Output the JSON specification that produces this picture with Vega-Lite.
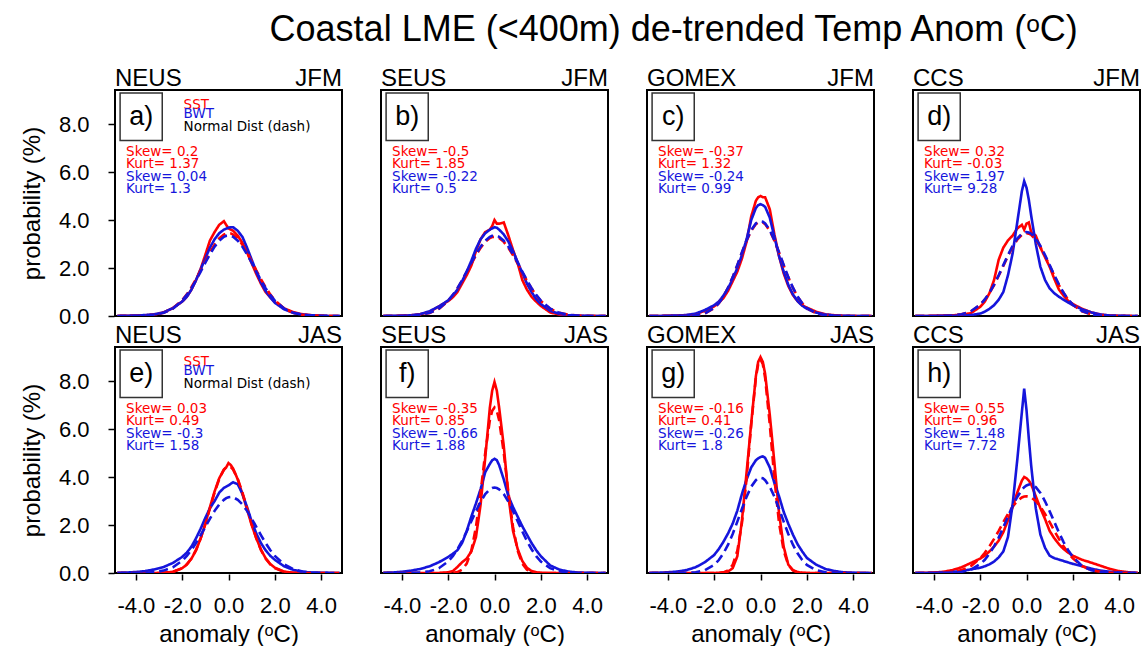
{
"$schema": "https://vega.github.io/schema/vega-lite/v6.json",
"background": "white",
"padding": {"left": 20, "top": 12, "right": 4, "bottom": 0},
"title": {"text": "Coastal LME (<400m) de-trended Temp Anom (ᵒC)", "fontSize": 36, "fontWeight": "normal", "font": "Liberation Sans", "color": "black", "anchor": "middle", "offset": 16, "dx": 93},
"data": {"values": [
{"p":"a","rg":"NEUS","se":"JFM","lb":"a)","sst":"Skew= 0.2\nKurt= 1.37","bwt":"Skew= 0.04\nKurt= 1.3","leg":1,"l1":"SST","l2":"BWT","l3":"Normal Dist (dash)"},
{"p":"b","rg":"SEUS","se":"JFM","lb":"b)","sst":"Skew= -0.5\nKurt= 1.85","bwt":"Skew= -0.22\nKurt= 0.5"},
{"p":"c","rg":"GOMEX","se":"JFM","lb":"c)","sst":"Skew= -0.37\nKurt= 1.32","bwt":"Skew= -0.24\nKurt= 0.99"},
{"p":"d","rg":"CCS","se":"JFM","lb":"d)","sst":"Skew= 0.32\nKurt= -0.03","bwt":"Skew= 1.97\nKurt= 9.28"},
{"p":"e","rg":"NEUS","se":"JAS","lb":"e)","sst":"Skew= 0.03\nKurt= 0.49","bwt":"Skew= -0.3\nKurt= 1.58","leg":1,"l1":"SST","l2":"BWT","l3":"Normal Dist (dash)"},
{"p":"f","rg":"SEUS","se":"JAS","lb":"f)","sst":"Skew= -0.35\nKurt= 0.85","bwt":"Skew= -0.66\nKurt= 1.88"},
{"p":"g","rg":"GOMEX","se":"JAS","lb":"g)","sst":"Skew= -0.16\nKurt= 0.41","bwt":"Skew= -0.26\nKurt= 1.8"},
{"p":"h","rg":"CCS","se":"JAS","lb":"h)","sst":"Skew= 0.55\nKurt= 0.96","bwt":"Skew= 1.48\nKurt= 7.72"},
{"p":"a","x":-4.8,"rs":0,"bs":0,"rd":0,"bd":0},
{"p":"a","x":-4.4,"rs":0.01,"bs":0.01,"rd":0,"bd":0},
{"p":"a","x":-4.0,"rs":0.02,"bs":0.02,"rd":0.005,"bd":0.005},
{"p":"a","x":-3.6,"rs":0.03,"bs":0.04,"rd":0.02,"bd":0.016},
{"p":"a","x":-3.2,"rs":0.06,"bs":0.07,"rd":0.05,"bd":0.05},
{"p":"a","x":-2.8,"rs":0.15,"bs":0.15,"rd":0.13,"bd":0.13},
{"p":"a","x":-2.4,"rs":0.33,"bs":0.33,"rd":0.32,"bd":0.31},
{"p":"a","x":-2.0,"rs":0.6,"bs":0.6,"rd":0.66,"bd":0.64},
{"p":"a","x":-1.8,"rs":0.8,"bs":0.8,"rd":0.9,"bd":0.88},
{"p":"a","x":-1.6,"rs":1.1,"bs":1.1,"rd":1.2,"bd":1.16},
{"p":"a","x":-1.4,"rs":1.5,"bs":1.5,"rd":1.54,"bd":1.49},
{"p":"a","x":-1.2,"rs":1.97,"bs":1.95,"rd":1.9,"bd":1.85},
{"p":"a","x":-1.0,"rs":2.55,"bs":2.4,"rd":2.28,"bd":2.22},
{"p":"a","x":-0.8,"rs":3.15,"bs":2.85,"rd":2.65,"bd":2.57},
{"p":"a","x":-0.6,"rs":3.5,"bs":3.2,"rd":2.97,"bd":2.89},
{"p":"a","x":-0.4,"rs":3.8,"bs":3.45,"rd":3.23,"bd":3.14},
{"p":"a","x":-0.2,"rs":3.95,"bs":3.6,"rd":3.39,"bd":3.3},
{"p":"a","x":-0.1,"rs":3.8,"bs":3.64,"rd":3.44,"bd":3.34},
{"p":"a","x":0,"rs":3.65,"bs":3.68,"rd":3.45,"bd":3.35},
{"p":"a","x":0.1,"rs":3.6,"bs":3.7,"rd":3.44,"bd":3.34},
{"p":"a","x":0.2,"rs":3.55,"bs":3.7,"rd":3.39,"bd":3.3},
{"p":"a","x":0.4,"rs":3.35,"bs":3.55,"rd":3.23,"bd":3.14},
{"p":"a","x":0.6,"rs":3.05,"bs":3.3,"rd":2.97,"bd":2.89},
{"p":"a","x":0.8,"rs":2.65,"bs":2.85,"rd":2.65,"bd":2.57},
{"p":"a","x":1.0,"rs":2.2,"bs":2.35,"rd":2.28,"bd":2.22},
{"p":"a","x":1.2,"rs":1.75,"bs":1.85,"rd":1.9,"bd":1.85},
{"p":"a","x":1.4,"rs":1.35,"bs":1.4,"rd":1.54,"bd":1.49},
{"p":"a","x":1.6,"rs":1.0,"bs":1.05,"rd":1.2,"bd":1.16},
{"p":"a","x":1.8,"rs":0.78,"bs":0.78,"rd":0.9,"bd":0.88},
{"p":"a","x":2.0,"rs":0.58,"bs":0.55,"rd":0.66,"bd":0.64},
{"p":"a","x":2.4,"rs":0.32,"bs":0.28,"rd":0.32,"bd":0.31},
{"p":"a","x":2.8,"rs":0.16,"bs":0.13,"rd":0.13,"bd":0.13},
{"p":"a","x":3.2,"rs":0.07,"bs":0.06,"rd":0.05,"bd":0.05},
{"p":"a","x":3.6,"rs":0.03,"bs":0.03,"rd":0.02,"bd":0.016},
{"p":"a","x":4.0,"rs":0.01,"bs":0.01,"rd":0.005,"bd":0.005},
{"p":"a","x":4.4,"rs":0,"bs":0,"rd":0,"bd":0},
{"p":"a","x":4.8,"rs":0,"bs":0,"rd":0,"bd":0},
{"p":"b","x":-4.8,"rs":0,"bs":0,"rd":0,"bd":0},
{"p":"b","x":-4.4,"rs":0,"bs":0.01,"rd":0,"bd":0},
{"p":"b","x":-4.0,"rs":0.01,"bs":0.01,"rd":0.005,"bd":0.005},
{"p":"b","x":-3.6,"rs":0.03,"bs":0.03,"rd":0.015,"bd":0.016},
{"p":"b","x":-3.2,"rs":0.07,"bs":0.08,"rd":0.05,"bd":0.05},
{"p":"b","x":-2.8,"rs":0.18,"bs":0.2,"rd":0.13,"bd":0.13},
{"p":"b","x":-2.4,"rs":0.4,"bs":0.4,"rd":0.3,"bd":0.31},
{"p":"b","x":-2.0,"rs":0.62,"bs":0.65,"rd":0.63,"bd":0.64},
{"p":"b","x":-1.8,"rs":0.78,"bs":0.85,"rd":0.86,"bd":0.88},
{"p":"b","x":-1.6,"rs":1.0,"bs":1.1,"rd":1.15,"bd":1.16},
{"p":"b","x":-1.4,"rs":1.35,"bs":1.45,"rd":1.47,"bd":1.49},
{"p":"b","x":-1.2,"rs":1.7,"bs":1.85,"rd":1.82,"bd":1.85},
{"p":"b","x":-1.0,"rs":2.1,"bs":2.3,"rd":2.18,"bd":2.22},
{"p":"b","x":-0.8,"rs":2.7,"bs":2.8,"rd":2.53,"bd":2.57},
{"p":"b","x":-0.6,"rs":3.2,"bs":3.2,"rd":2.84,"bd":2.89},
{"p":"b","x":-0.4,"rs":3.5,"bs":3.45,"rd":3.09,"bd":3.14},
{"p":"b","x":-0.2,"rs":3.6,"bs":3.6,"rd":3.25,"bd":3.3},
{"p":"b","x":-0.1,"rs":3.75,"bs":3.65,"rd":3.29,"bd":3.34},
{"p":"b","x":0,"rs":4.0,"bs":3.7,"rd":3.3,"bd":3.35},
{"p":"b","x":0.1,"rs":3.85,"bs":3.68,"rd":3.29,"bd":3.34},
{"p":"b","x":0.2,"rs":3.85,"bs":3.6,"rd":3.25,"bd":3.3},
{"p":"b","x":0.4,"rs":3.9,"bs":3.4,"rd":3.09,"bd":3.14},
{"p":"b","x":0.6,"rs":3.35,"bs":3.1,"rd":2.84,"bd":2.89},
{"p":"b","x":0.8,"rs":2.75,"bs":2.7,"rd":2.53,"bd":2.57},
{"p":"b","x":1.0,"rs":2.2,"bs":2.25,"rd":2.18,"bd":2.22},
{"p":"b","x":1.2,"rs":1.5,"bs":1.8,"rd":1.82,"bd":1.85},
{"p":"b","x":1.4,"rs":1.1,"bs":1.35,"rd":1.47,"bd":1.49},
{"p":"b","x":1.6,"rs":0.8,"bs":1.0,"rd":1.15,"bd":1.16},
{"p":"b","x":1.8,"rs":0.6,"bs":0.7,"rd":0.86,"bd":0.88},
{"p":"b","x":2.0,"rs":0.42,"bs":0.5,"rd":0.63,"bd":0.64},
{"p":"b","x":2.4,"rs":0.15,"bs":0.22,"rd":0.3,"bd":0.31},
{"p":"b","x":2.8,"rs":0.06,"bs":0.09,"rd":0.13,"bd":0.13},
{"p":"b","x":3.2,"rs":0.02,"bs":0.03,"rd":0.05,"bd":0.05},
{"p":"b","x":3.6,"rs":0.01,"bs":0.01,"rd":0.015,"bd":0.016},
{"p":"b","x":4.0,"rs":0,"bs":0,"rd":0.005,"bd":0.005},
{"p":"b","x":4.4,"rs":0,"bs":0,"rd":0,"bd":0},
{"p":"b","x":4.8,"rs":0,"bs":0,"rd":0,"bd":0},
{"p":"c","x":-4.8,"rs":0,"bs":0,"rd":0,"bd":0},
{"p":"c","x":-4.4,"rs":0,"bs":0,"rd":0,"bd":0},
{"p":"c","x":-4.0,"rs":0.01,"bs":0.01,"rd":0,"bd":0},
{"p":"c","x":-3.6,"rs":0.02,"bs":0.02,"rd":0.001,"bd":0.001},
{"p":"c","x":-3.2,"rs":0.03,"bs":0.04,"rd":0.007,"bd":0.007},
{"p":"c","x":-2.8,"rs":0.08,"bs":0.1,"rd":0.03,"bd":0.03},
{"p":"c","x":-2.4,"rs":0.22,"bs":0.25,"rd":0.11,"bd":0.11},
{"p":"c","x":-2.0,"rs":0.4,"bs":0.45,"rd":0.33,"bd":0.34},
{"p":"c","x":-1.8,"rs":0.55,"bs":0.6,"rd":0.53,"bd":0.53},
{"p":"c","x":-1.6,"rs":0.75,"bs":0.85,"rd":0.81,"bd":0.81},
{"p":"c","x":-1.4,"rs":1.05,"bs":1.15,"rd":1.17,"bd":1.18},
{"p":"c","x":-1.2,"rs":1.45,"bs":1.55,"rd":1.61,"bd":1.62},
{"p":"c","x":-1.0,"rs":1.85,"bs":2.0,"rd":2.11,"bd":2.13},
{"p":"c","x":-0.8,"rs":2.4,"bs":2.55,"rd":2.64,"bd":2.66},
{"p":"c","x":-0.6,"rs":3.1,"bs":3.2,"rd":3.14,"bd":3.16},
{"p":"c","x":-0.4,"rs":4.15,"bs":4.0,"rd":3.55,"bd":3.58},
{"p":"c","x":-0.2,"rs":4.8,"bs":4.5,"rd":3.83,"bd":3.86},
{"p":"c","x":-0.1,"rs":4.95,"bs":4.62,"rd":3.9,"bd":3.93},
{"p":"c","x":0,"rs":5.0,"bs":4.66,"rd":3.92,"bd":3.95},
{"p":"c","x":0.1,"rs":4.95,"bs":4.62,"rd":3.9,"bd":3.93},
{"p":"c","x":0.2,"rs":4.95,"bs":4.55,"rd":3.83,"bd":3.86},
{"p":"c","x":0.4,"rs":4.45,"bs":4.1,"rd":3.55,"bd":3.58},
{"p":"c","x":0.6,"rs":3.4,"bs":3.3,"rd":3.14,"bd":3.16},
{"p":"c","x":0.8,"rs":2.5,"bs":2.5,"rd":2.64,"bd":2.66},
{"p":"c","x":1.0,"rs":1.78,"bs":1.85,"rd":2.11,"bd":2.13},
{"p":"c","x":1.2,"rs":1.25,"bs":1.3,"rd":1.61,"bd":1.62},
{"p":"c","x":1.4,"rs":0.87,"bs":0.9,"rd":1.17,"bd":1.18},
{"p":"c","x":1.6,"rs":0.62,"bs":0.62,"rd":0.81,"bd":0.81},
{"p":"c","x":1.8,"rs":0.45,"bs":0.43,"rd":0.53,"bd":0.53},
{"p":"c","x":2.0,"rs":0.35,"bs":0.3,"rd":0.33,"bd":0.34},
{"p":"c","x":2.4,"rs":0.18,"bs":0.14,"rd":0.11,"bd":0.11},
{"p":"c","x":2.8,"rs":0.07,"bs":0.06,"rd":0.03,"bd":0.03},
{"p":"c","x":3.2,"rs":0.03,"bs":0.02,"rd":0.007,"bd":0.007},
{"p":"c","x":3.6,"rs":0.01,"bs":0.01,"rd":0.001,"bd":0.001},
{"p":"c","x":4.0,"rs":0,"bs":0,"rd":0,"bd":0},
{"p":"c","x":4.4,"rs":0,"bs":0,"rd":0,"bd":0},
{"p":"c","x":4.8,"rs":0,"bs":0,"rd":0,"bd":0},
{"p":"d","x":-4.8,"rs":0,"bs":0,"rd":0,"bd":0},
{"p":"d","x":-4.4,"rs":0,"bs":0,"rd":0,"bd":0},
{"p":"d","x":-4.0,"rs":0.01,"bs":0,"rd":0,"bd":0},
{"p":"d","x":-3.6,"rs":0.02,"bs":0.01,"rd":0.005,"bd":0.005},
{"p":"d","x":-3.2,"rs":0.03,"bs":0.01,"rd":0.02,"bd":0.02},
{"p":"d","x":-2.8,"rs":0.05,"bs":0.02,"rd":0.07,"bd":0.07},
{"p":"d","x":-2.4,"rs":0.12,"bs":0.04,"rd":0.19,"bd":0.2},
{"p":"d","x":-2.0,"rs":0.38,"bs":0.1,"rd":0.47,"bd":0.47},
{"p":"d","x":-1.8,"rs":0.6,"bs":0.18,"rd":0.68,"bd":0.69},
{"p":"d","x":-1.6,"rs":0.95,"bs":0.3,"rd":0.96,"bd":0.97},
{"p":"d","x":-1.4,"rs":1.5,"bs":0.45,"rd":1.29,"bd":1.31},
{"p":"d","x":-1.2,"rs":2.35,"bs":0.68,"rd":1.68,"bd":1.7},
{"p":"d","x":-1.0,"rs":2.85,"bs":1.0,"rd":2.09,"bd":2.12},
{"p":"d","x":-0.8,"rs":3.15,"bs":1.7,"rd":2.5,"bd":2.54},
{"p":"d","x":-0.6,"rs":3.35,"bs":2.6,"rd":2.88,"bd":2.92},
{"p":"d","x":-0.4,"rs":3.65,"bs":3.9,"rd":3.18,"bd":3.23},
{"p":"d","x":-0.2,"rs":3.8,"bs":5.2,"rd":3.38,"bd":3.43},
{"p":"d","x":-0.1,"rs":3.6,"bs":5.62,"rd":3.43,"bd":3.48},
{"p":"d","x":0,"rs":3.85,"bs":5.35,"rd":3.45,"bd":3.5},
{"p":"d","x":0.1,"rs":3.9,"bs":4.85,"rd":3.43,"bd":3.48},
{"p":"d","x":0.2,"rs":3.5,"bs":4.2,"rd":3.38,"bd":3.43},
{"p":"d","x":0.4,"rs":3.35,"bs":3.0,"rd":3.18,"bd":3.23},
{"p":"d","x":0.6,"rs":2.85,"bs":2.05,"rd":2.88,"bd":2.92},
{"p":"d","x":0.8,"rs":2.45,"bs":1.5,"rd":2.5,"bd":2.54},
{"p":"d","x":1.0,"rs":2.05,"bs":1.15,"rd":2.09,"bd":2.12},
{"p":"d","x":1.2,"rs":1.55,"bs":0.95,"rd":1.68,"bd":1.7},
{"p":"d","x":1.4,"rs":1.1,"bs":0.8,"rd":1.29,"bd":1.31},
{"p":"d","x":1.6,"rs":0.85,"bs":0.68,"rd":0.96,"bd":0.97},
{"p":"d","x":1.8,"rs":0.63,"bs":0.56,"rd":0.68,"bd":0.69},
{"p":"d","x":2.0,"rs":0.5,"bs":0.45,"rd":0.47,"bd":0.47},
{"p":"d","x":2.4,"rs":0.3,"bs":0.28,"rd":0.19,"bd":0.2},
{"p":"d","x":2.8,"rs":0.15,"bs":0.15,"rd":0.07,"bd":0.07},
{"p":"d","x":3.2,"rs":0.06,"bs":0.06,"rd":0.02,"bd":0.02},
{"p":"d","x":3.6,"rs":0.02,"bs":0.02,"rd":0.005,"bd":0.005},
{"p":"d","x":4.0,"rs":0.01,"bs":0.01,"rd":0,"bd":0},
{"p":"d","x":4.4,"rs":0,"bs":0,"rd":0,"bd":0},
{"p":"d","x":4.8,"rs":0,"bs":0,"rd":0,"bd":0},
{"p":"e","x":-4.8,"rs":0,"bs":0.01,"rd":0,"bd":0},
{"p":"e","x":-4.4,"rs":0,"bs":0.02,"rd":0,"bd":0},
{"p":"e","x":-4.0,"rs":0,"bs":0.04,"rd":0,"bd":0.003},
{"p":"e","x":-3.6,"rs":0,"bs":0.08,"rd":0,"bd":0.011},
{"p":"e","x":-3.2,"rs":0,"bs":0.15,"rd":0,"bd":0.035},
{"p":"e","x":-2.8,"rs":0.01,"bs":0.25,"rd":0.01,"bd":0.1},
{"p":"e","x":-2.4,"rs":0.05,"bs":0.42,"rd":0.05,"bd":0.24},
{"p":"e","x":-2.0,"rs":0.2,"bs":0.67,"rd":0.2,"bd":0.51},
{"p":"e","x":-1.8,"rs":0.35,"bs":0.85,"rd":0.36,"bd":0.71},
{"p":"e","x":-1.6,"rs":0.6,"bs":1.1,"rd":0.6,"bd":0.96},
{"p":"e","x":-1.4,"rs":0.95,"bs":1.45,"rd":0.96,"bd":1.25},
{"p":"e","x":-1.2,"rs":1.45,"bs":1.85,"rd":1.45,"bd":1.58},
{"p":"e","x":-1.0,"rs":2.05,"bs":2.3,"rd":2.04,"bd":1.92},
{"p":"e","x":-0.8,"rs":2.75,"bs":2.7,"rd":2.7,"bd":2.27},
{"p":"e","x":-0.6,"rs":3.4,"bs":3.0,"rd":3.36,"bd":2.59},
{"p":"e","x":-0.4,"rs":3.95,"bs":3.35,"rd":3.92,"bd":2.86},
{"p":"e","x":-0.2,"rs":4.3,"bs":3.55,"rd":4.31,"bd":3.05},
{"p":"e","x":-0.1,"rs":4.4,"bs":3.6,"rd":4.41,"bd":3.12},
{"p":"e","x":0,"rs":4.58,"bs":3.65,"rd":4.45,"bd":3.16},
{"p":"e","x":0.1,"rs":4.5,"bs":3.72,"rd":4.41,"bd":3.17},
{"p":"e","x":0.2,"rs":4.35,"bs":3.78,"rd":4.31,"bd":3.16},
{"p":"e","x":0.4,"rs":3.9,"bs":3.7,"rd":3.92,"bd":3.05},
{"p":"e","x":0.6,"rs":3.3,"bs":3.3,"rd":3.36,"bd":2.86},
{"p":"e","x":0.8,"rs":2.65,"bs":2.75,"rd":2.7,"bd":2.59},
{"p":"e","x":1.0,"rs":2.0,"bs":2.15,"rd":2.04,"bd":2.27},
{"p":"e","x":1.2,"rs":1.45,"bs":1.65,"rd":1.45,"bd":1.92},
{"p":"e","x":1.4,"rs":0.98,"bs":1.25,"rd":0.96,"bd":1.58},
{"p":"e","x":1.6,"rs":0.62,"bs":0.95,"rd":0.6,"bd":1.25},
{"p":"e","x":1.8,"rs":0.38,"bs":0.72,"rd":0.36,"bd":0.96},
{"p":"e","x":2.0,"rs":0.22,"bs":0.55,"rd":0.2,"bd":0.71},
{"p":"e","x":2.4,"rs":0.06,"bs":0.28,"rd":0.05,"bd":0.36},
{"p":"e","x":2.8,"rs":0.01,"bs":0.13,"rd":0.01,"bd":0.16},
{"p":"e","x":3.2,"rs":0,"bs":0.05,"rd":0,"bd":0.06},
{"p":"e","x":3.6,"rs":0,"bs":0.02,"rd":0,"bd":0.02},
{"p":"e","x":4.0,"rs":0,"bs":0.01,"rd":0,"bd":0.006},
{"p":"e","x":4.4,"rs":0,"bs":0,"rd":0,"bd":0},
{"p":"e","x":4.8,"rs":0,"bs":0,"rd":0,"bd":0},
{"p":"f","x":-4.8,"rs":0,"bs":0.01,"rd":0,"bd":0},
{"p":"f","x":-4.4,"rs":0,"bs":0.02,"rd":0,"bd":0},
{"p":"f","x":-4.0,"rs":0,"bs":0.05,"rd":0,"bd":0},
{"p":"f","x":-3.6,"rs":0,"bs":0.1,"rd":0,"bd":0.005},
{"p":"f","x":-3.2,"rs":0,"bs":0.17,"rd":0,"bd":0.02},
{"p":"f","x":-2.8,"rs":0,"bs":0.28,"rd":0,"bd":0.07},
{"p":"f","x":-2.4,"rs":0,"bs":0.45,"rd":0,"bd":0.2},
{"p":"f","x":-2.0,"rs":0.03,"bs":0.67,"rd":0,"bd":0.48},
{"p":"f","x":-1.8,"rs":0.08,"bs":0.8,"rd":0.01,"bd":0.7},
{"p":"f","x":-1.6,"rs":0.25,"bs":0.95,"rd":0.04,"bd":0.99},
{"p":"f","x":-1.4,"rs":0.45,"bs":1.25,"rd":0.14,"bd":1.34},
{"p":"f","x":-1.2,"rs":0.6,"bs":1.75,"rd":0.39,"bd":1.73},
{"p":"f","x":-1.0,"rs":0.9,"bs":2.35,"rd":0.93,"bd":2.16},
{"p":"f","x":-0.8,"rs":1.5,"bs":2.9,"rd":1.92,"bd":2.58},
{"p":"f","x":-0.6,"rs":2.85,"bs":3.5,"rd":3.36,"bd":2.97},
{"p":"f","x":-0.4,"rs":4.8,"bs":4.2,"rd":5.01,"bd":3.29},
{"p":"f","x":-0.2,"rs":6.9,"bs":4.55,"rd":6.37,"bd":3.49},
{"p":"f","x":-0.1,"rs":7.6,"bs":4.7,"rd":6.76,"bd":3.54},
{"p":"f","x":0,"rs":7.96,"bs":4.76,"rd":6.9,"bd":3.56},
{"p":"f","x":0.1,"rs":7.6,"bs":4.7,"rd":6.76,"bd":3.54},
{"p":"f","x":0.2,"rs":6.9,"bs":4.5,"rd":6.37,"bd":3.49},
{"p":"f","x":0.4,"rs":5.3,"bs":3.9,"rd":5.01,"bd":3.29},
{"p":"f","x":0.6,"rs":3.2,"bs":3.2,"rd":3.36,"bd":2.97},
{"p":"f","x":0.8,"rs":1.75,"bs":2.75,"rd":1.92,"bd":2.58},
{"p":"f","x":1.0,"rs":1.0,"bs":2.35,"rd":0.93,"bd":2.16},
{"p":"f","x":1.2,"rs":0.5,"bs":1.95,"rd":0.39,"bd":1.73},
{"p":"f","x":1.4,"rs":0.22,"bs":1.6,"rd":0.14,"bd":1.34},
{"p":"f","x":1.6,"rs":0.08,"bs":1.25,"rd":0.04,"bd":0.99},
{"p":"f","x":1.8,"rs":0.03,"bs":0.95,"rd":0.01,"bd":0.7},
{"p":"f","x":2.0,"rs":0.01,"bs":0.7,"rd":0,"bd":0.48},
{"p":"f","x":2.4,"rs":0,"bs":0.32,"rd":0,"bd":0.2},
{"p":"f","x":2.8,"rs":0,"bs":0.14,"rd":0,"bd":0.07},
{"p":"f","x":3.2,"rs":0,"bs":0.06,"rd":0,"bd":0.02},
{"p":"f","x":3.6,"rs":0,"bs":0.02,"rd":0,"bd":0.005},
{"p":"f","x":4.0,"rs":0,"bs":0.01,"rd":0,"bd":0},
{"p":"f","x":4.4,"rs":0,"bs":0,"rd":0,"bd":0},
{"p":"f","x":4.8,"rs":0,"bs":0,"rd":0,"bd":0},
{"p":"g","x":-4.8,"rs":0,"bs":0,"rd":0,"bd":0},
{"p":"g","x":-4.4,"rs":0,"bs":0.01,"rd":0,"bd":0},
{"p":"g","x":-4.0,"rs":0,"bs":0.03,"rd":0,"bd":0},
{"p":"g","x":-3.6,"rs":0,"bs":0.06,"rd":0,"bd":0.001},
{"p":"g","x":-3.2,"rs":0,"bs":0.12,"rd":0,"bd":0.007},
{"p":"g","x":-2.8,"rs":0,"bs":0.24,"rd":0,"bd":0.03},
{"p":"g","x":-2.4,"rs":0,"bs":0.45,"rd":0,"bd":0.12},
{"p":"g","x":-2.0,"rs":0,"bs":0.75,"rd":0,"bd":0.34},
{"p":"g","x":-1.8,"rs":0.01,"bs":1.0,"rd":0.006,"bd":0.54},
{"p":"g","x":-1.6,"rs":0.02,"bs":1.3,"rd":0.027,"bd":0.82},
{"p":"g","x":-1.4,"rs":0.06,"bs":1.65,"rd":0.105,"bd":1.18},
{"p":"g","x":-1.2,"rs":0.2,"bs":2.06,"rd":0.34,"bd":1.63},
{"p":"g","x":-1.0,"rs":0.7,"bs":2.6,"rd":0.93,"bd":2.14},
{"p":"g","x":-0.8,"rs":2.2,"bs":3.3,"rd":2.09,"bd":2.68},
{"p":"g","x":-0.6,"rs":4.2,"bs":3.9,"rd":3.94,"bd":3.18},
{"p":"g","x":-0.4,"rs":6.25,"bs":4.4,"rd":6.19,"bd":3.6},
{"p":"g","x":-0.2,"rs":8.2,"bs":4.7,"rd":8.13,"bd":3.87},
{"p":"g","x":-0.1,"rs":8.8,"bs":4.78,"rd":8.7,"bd":3.95},
{"p":"g","x":0,"rs":9.0,"bs":4.83,"rd":8.9,"bd":3.97},
{"p":"g","x":0.1,"rs":8.8,"bs":4.86,"rd":8.7,"bd":3.95},
{"p":"g","x":0.2,"rs":8.3,"bs":4.8,"rd":8.13,"bd":3.87},
{"p":"g","x":0.4,"rs":6.6,"bs":4.4,"rd":6.19,"bd":3.6},
{"p":"g","x":0.6,"rs":4.6,"bs":3.75,"rd":3.94,"bd":3.18},
{"p":"g","x":0.8,"rs":2.5,"bs":3.2,"rd":2.09,"bd":2.68},
{"p":"g","x":1.0,"rs":1.1,"bs":2.55,"rd":0.93,"bd":2.14},
{"p":"g","x":1.2,"rs":0.35,"bs":2.05,"rd":0.34,"bd":1.63},
{"p":"g","x":1.4,"rs":0.12,"bs":1.6,"rd":0.105,"bd":1.18},
{"p":"g","x":1.6,"rs":0.04,"bs":1.2,"rd":0.027,"bd":0.82},
{"p":"g","x":1.8,"rs":0.01,"bs":0.9,"rd":0.006,"bd":0.54},
{"p":"g","x":2.0,"rs":0,"bs":0.63,"rd":0,"bd":0.34},
{"p":"g","x":2.4,"rs":0,"bs":0.35,"rd":0,"bd":0.12},
{"p":"g","x":2.8,"rs":0,"bs":0.17,"rd":0,"bd":0.03},
{"p":"g","x":3.2,"rs":0,"bs":0.08,"rd":0,"bd":0.007},
{"p":"g","x":3.6,"rs":0,"bs":0.03,"rd":0,"bd":0.001},
{"p":"g","x":4.0,"rs":0,"bs":0.01,"rd":0,"bd":0},
{"p":"g","x":4.4,"rs":0,"bs":0,"rd":0,"bd":0},
{"p":"g","x":4.8,"rs":0,"bs":0,"rd":0,"bd":0},
{"p":"h","x":-4.8,"rs":0,"bs":0,"rd":0,"bd":0},
{"p":"h","x":-4.4,"rs":0.01,"bs":0,"rd":0,"bd":0},
{"p":"h","x":-4.0,"rs":0.02,"bs":0.01,"rd":0.004,"bd":0.002},
{"p":"h","x":-3.6,"rs":0.05,"bs":0.02,"rd":0.015,"bd":0.003},
{"p":"h","x":-3.2,"rs":0.12,"bs":0.04,"rd":0.05,"bd":0.014},
{"p":"h","x":-2.8,"rs":0.24,"bs":0.08,"rd":0.12,"bd":0.048},
{"p":"h","x":-2.4,"rs":0.42,"bs":0.15,"rd":0.29,"bd":0.14},
{"p":"h","x":-2.0,"rs":0.6,"bs":0.22,"rd":0.61,"bd":0.37},
{"p":"h","x":-1.8,"rs":0.72,"bs":0.28,"rd":0.84,"bd":0.55},
{"p":"h","x":-1.6,"rs":0.9,"bs":0.36,"rd":1.11,"bd":0.8},
{"p":"h","x":-1.4,"rs":1.1,"bs":0.48,"rd":1.42,"bd":1.11},
{"p":"h","x":-1.2,"rs":1.35,"bs":0.65,"rd":1.76,"bd":1.48},
{"p":"h","x":-1.0,"rs":1.7,"bs":0.9,"rd":2.12,"bd":1.91},
{"p":"h","x":-0.8,"rs":2.2,"bs":1.5,"rd":2.46,"bd":2.35},
{"p":"h","x":-0.6,"rs":2.75,"bs":2.85,"rd":2.76,"bd":2.79},
{"p":"h","x":-0.4,"rs":3.35,"bs":4.7,"rd":3.0,"bd":3.17},
{"p":"h","x":-0.2,"rs":3.85,"bs":6.7,"rd":3.15,"bd":3.47},
{"p":"h","x":-0.1,"rs":4.0,"bs":7.68,"rd":3.19,"bd":3.58},
{"p":"h","x":0,"rs":3.95,"bs":6.8,"rd":3.2,"bd":3.65},
{"p":"h","x":0.1,"rs":3.85,"bs":5.6,"rd":3.19,"bd":3.69},
{"p":"h","x":0.2,"rs":3.7,"bs":4.5,"rd":3.15,"bd":3.69},
{"p":"h","x":0.4,"rs":3.2,"bs":2.7,"rd":3.0,"bd":3.58},
{"p":"h","x":0.6,"rs":2.7,"bs":1.6,"rd":2.76,"bd":3.34},
{"p":"h","x":0.8,"rs":2.25,"bs":1.05,"rd":2.46,"bd":2.99},
{"p":"h","x":1.0,"rs":1.75,"bs":0.72,"rd":2.12,"bd":2.57},
{"p":"h","x":1.2,"rs":1.45,"bs":0.62,"rd":1.76,"bd":2.13},
{"p":"h","x":1.4,"rs":1.2,"bs":0.56,"rd":1.42,"bd":1.69},
{"p":"h","x":1.6,"rs":1.0,"bs":0.5,"rd":1.11,"bd":1.29},
{"p":"h","x":1.8,"rs":0.85,"bs":0.44,"rd":0.84,"bd":0.95},
{"p":"h","x":2.0,"rs":0.72,"bs":0.38,"rd":0.61,"bd":0.67},
{"p":"h","x":2.4,"rs":0.55,"bs":0.28,"rd":0.29,"bd":0.29},
{"p":"h","x":2.8,"rs":0.43,"bs":0.18,"rd":0.12,"bd":0.11},
{"p":"h","x":3.2,"rs":0.3,"bs":0.1,"rd":0.05,"bd":0.035},
{"p":"h","x":3.6,"rs":0.17,"bs":0.05,"rd":0.015,"bd":0.01},
{"p":"h","x":4.0,"rs":0.08,"bs":0.02,"rd":0.004,"bd":0.002},
{"p":"h","x":4.4,"rs":0.03,"bs":0.01,"rd":0,"bd":0},
{"p":"h","x":4.8,"rs":0.01,"bs":0,"rd":0,"bd":0}
]},
"facet": {"field": "p", "type": "nominal", "title": null, "header": {"labelExpr": "''", "labelFontSize": 1, "labelPadding": 0}},
"columns": 4,
"spacing": {"row": 5, "column": 37},
"spec": {
  "width": 227,
  "height": 226,
  "layer": [
    {
      "transform": [{"filter": "isValid(datum.x)"}, {"fold": ["rs", "bs", "rd", "bd"], "as": ["k", "y"]}],
      "mark": {"type": "line", "strokeWidth": 2.6, "clip": true},
      "encoding": {
        "x": {"field": "x", "type": "quantitative", "scale": {"domain": [-4.9, 4.9], "nice": false, "zero": false},
          "axis": {"title": "anomaly (ᵒC)", "values": [-4, -2, 0, 2, 4],
            "labelExpr": "(datum.value < 0 ? '-' : '') + format(abs(datum.value), '.1f')",
            "tickSize": 6, "labelPadding": 15, "titlePadding": 6}},
        "y": {"field": "y", "type": "quantitative", "scale": {"domain": [0, 9.42], "nice": false},
          "axis": {"title": "probability (%)", "values": [0,0.5,1,1.5,2,2.5,3,3.5,4,4.5,5,5.5,6,6.5,7,7.5,8,8.5,9],
            "labelExpr": "datum.value % 2 == 0 ? format(datum.value, '.1f') : ''",
            "tickSize": {"condition": {"test": "datum.value % 2 != 0", "value": 3}, "value": 6},
            "labelPadding": 19, "titlePadding": 14, "labelOverlap": false}},
        "color": {"field": "k", "type": "nominal", "scale": {"domain": ["rs", "bs", "rd", "bd"], "range": ["#ff0000", "#1515dc", "#ff0000", "#1515dc"]}, "legend": null},
        "strokeDash": {"field": "k", "type": "nominal", "scale": {"domain": ["rs", "bs", "rd", "bd"], "range": [[1, 0], [1, 0], [9, 5], [9, 5]]}, "legend": null}
      }
    },
    {
      "transform": [{"filter": "isValid(datum.lb)"}],
      "mark": {"type": "rect", "fill": "white", "stroke": "#333333", "strokeWidth": 1.5},
      "encoding": {"x": {"datum": -4.68}, "x2": {"datum": -2.86}, "y": {"datum": 9.29}, "y2": {"datum": 7.32}}
    },
    {
      "transform": [{"filter": "isValid(datum.lb)"}],
      "mark": {"type": "text", "fontSize": 27, "align": "center", "baseline": "middle", "color": "black"},
      "encoding": {"x": {"datum": -3.77}, "y": {"datum": 8.28}, "text": {"field": "lb"}}
    },
    {
      "transform": [{"filter": "isValid(datum.se)"}],
      "mark": {"type": "text", "fontSize": 24, "align": "right", "baseline": "alphabetic", "dy": -4, "color": "black"},
      "encoding": {"x": {"datum": 4.9}, "y": {"datum": 9.42}, "text": {"field": "se"}}
    },
    {
      "transform": [{"filter": "isValid(datum.rg)"}],
      "mark": {"type": "text", "fontSize": 24, "align": "left", "baseline": "alphabetic", "dy": -4, "color": "black"},
      "encoding": {"x": {"datum": -4.9}, "y": {"datum": 9.42}, "text": {"field": "rg"}}
    },
    {
      "transform": [{"filter": "isValid(datum.sst)"}],
      "mark": {"type": "text", "font": "DejaVu Sans", "fontSize": 13.5, "align": "left", "baseline": "middle", "lineBreak": "\n", "lineHeight": 12, "color": "#ff0000"},
      "encoding": {"x": {"datum": -4.42}, "y": {"datum": 6.82}, "text": {"field": "sst"}}
    },
    {
      "transform": [{"filter": "isValid(datum.bwt)"}],
      "mark": {"type": "text", "font": "DejaVu Sans", "fontSize": 13.5, "align": "left", "baseline": "middle", "lineBreak": "\n", "lineHeight": 12, "color": "#1515dc"},
      "encoding": {"x": {"datum": -4.42}, "y": {"datum": 5.81}, "text": {"field": "bwt"}}
    },
    {
      "transform": [{"filter": "datum.leg == 1"}],
      "mark": {"type": "text", "font": "DejaVu Sans", "fontSize": 13.5, "align": "left", "baseline": "middle", "color": "#ff0000"},
      "encoding": {"x": {"datum": -1.94}, "y": {"datum": 8.78}, "text": {"field": "l1"}}
    },
    {
      "transform": [{"filter": "datum.leg == 1"}],
      "mark": {"type": "text", "font": "DejaVu Sans", "fontSize": 13.5, "align": "left", "baseline": "middle", "color": "#1515dc"},
      "encoding": {"x": {"datum": -1.94}, "y": {"datum": 8.4}, "text": {"field": "l2"}}
    },
    {
      "transform": [{"filter": "datum.leg == 1"}],
      "mark": {"type": "text", "font": "DejaVu Sans", "fontSize": 13.5, "align": "left", "baseline": "middle", "color": "black"},
      "encoding": {"x": {"datum": -1.94}, "y": {"datum": 7.88}, "text": {"field": "l3"}}
    }
  ]
},
"config": {
  "font": "Liberation Sans",
  "view": {"stroke": "black", "strokeWidth": 2},
  "axis": {"domain": false, "grid": false, "tickColor": "black", "tickWidth": 1.5, "labelColor": "black", "titleColor": "black", "labelFontSize": 22, "titleFontSize": 24, "titleFontWeight": "normal", "labelFont": "Liberation Sans", "titleFont": "Liberation Sans"}
}
}
